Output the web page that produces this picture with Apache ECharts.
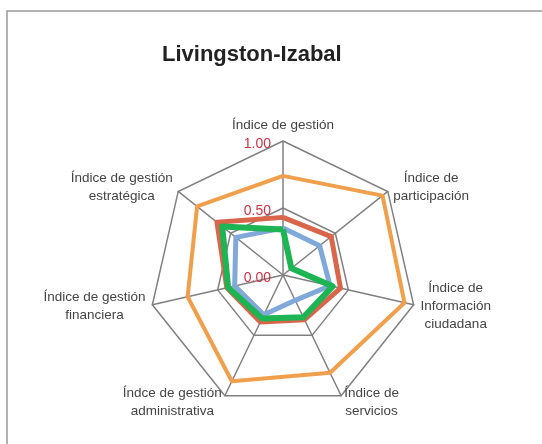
<!DOCTYPE html>
<html>
<head>
<meta charset="utf-8">
<script src="https://cdn.jsdelivr.net/npm/echarts@6/dist/echarts.min.js"></script>
<style>
  html, body { margin: 0; padding: 0; background: #fff; }
  #main { width: 542px; height: 444px; }
</style>
</head>
<body>
<div id="main"></div>
<script>
// axes, clockwise from the top
var categories = [
  'Índice de gestión',
  'Índice de\nparticipación',
  'Índice de\nInformación\nciudadana',
  'Índice de\nservicios',
  'Índce de gestión\nadministrativa',
  'Índice de gestión\nfinanciera',
  'Índice de gestión\nestratégica'
];
var serieOrange = [0.74, 0.95, 0.93, 0.81, 0.88, 0.73, 0.82];
var serieRed    = [0.43, 0.46, 0.44, 0.37, 0.39, 0.43, 0.63];
var serieBlue   = [0.35, 0.35, 0.36, 0.21, 0.33, 0.37, 0.45];
var serieGreen  = [0.34, 0.08, 0.38, 0.35, 0.36, 0.42, 0.58];
var tickValues = [0, 0.5, 1];

// echarts lays radar axes out counter-clockwise, so flip the order
function ccw(arr) {
  return [arr[0]].concat(arr.slice(1).reverse());
}

var chart = echarts.init(document.getElementById('main'));

var option = {
  animation: false,
  title: {
    text: 'Livingston-Izabal',
    left: 157,
    top: 39,
    textStyle: {
      fontFamily: 'Liberation Sans',
      fontSize: 22,
      fontWeight: 'bold',
      color: '#222'
    }
  },
  graphic: [{
    type: 'rect',
    shape: { x: 7, y: 11, width: 600, height: 500 },
    style: { fill: 'none', stroke: '#999', lineWidth: 1.5 },
    silent: true
  }],
  radar: {
    center: [283, 275],
    radius: 134,
    startAngle: 90,
    splitNumber: 2,
    shape: 'polygon',
    nameGap: 7,
    indicator: ccw(categories).map(function (c) {
      return { name: c, min: 0, max: 1 };
    }),
    axisName: {
      color: '#444',
      fontFamily: 'Liberation Sans',
      fontSize: 13.5,
      lineHeight: 18,
      formatter: function (name) {
        return '{a|' + name + '}';
      },
      rich: {
        a: { align: 'center', fontSize: 13.5, lineHeight: 18, color: '#444', fontFamily: 'Liberation Sans' }
      }
    },
    axisLine: { lineStyle: { color: '#808080', width: 1.5 } },
    splitLine: { lineStyle: { color: '#808080', width: 1.5 } },
    splitArea: { show: false }
  },
  polar: {
    center: [283, 275],
    radius: 134
  },
  angleAxis: {
    show: false,
    startAngle: 90,
    min: 0,
    max: 360
  },
  radiusAxis: {
    min: 0,
    max: 1,
    interval: 0.5,
    axisLine: { show: false },
    axisTick: { show: false },
    splitLine: { show: false },
    axisLabel: {
      color: '#cc3344',
      fontFamily: 'Liberation Sans',
      fontSize: 14,
      formatter: function (v) {
        return tickValues.indexOf(v) >= 0 ? '{t|' + v.toFixed(2) + '}' : '';
      },
      rich: {
        t: { color: '#cc3344', fontFamily: 'Liberation Sans', fontSize: 14, padding: [6, 4, 0, 0] }
      }
    }
  },
  series: [{
    type: 'radar',
    symbol: 'none',
    data: [
      { value: ccw(serieOrange), lineStyle: { color: '#f0a04c', width: 4 } },
      { value: ccw(serieRed), lineStyle: { color: '#d9654a', width: 5 } },
      { value: ccw(serieBlue), lineStyle: { color: '#80a8d8', width: 5 } },
      { value: ccw(serieGreen), lineStyle: { color: '#1db454', width: 6 } }
    ]
  }]
};

chart.setOption(option);
</script>
</body>
</html>
